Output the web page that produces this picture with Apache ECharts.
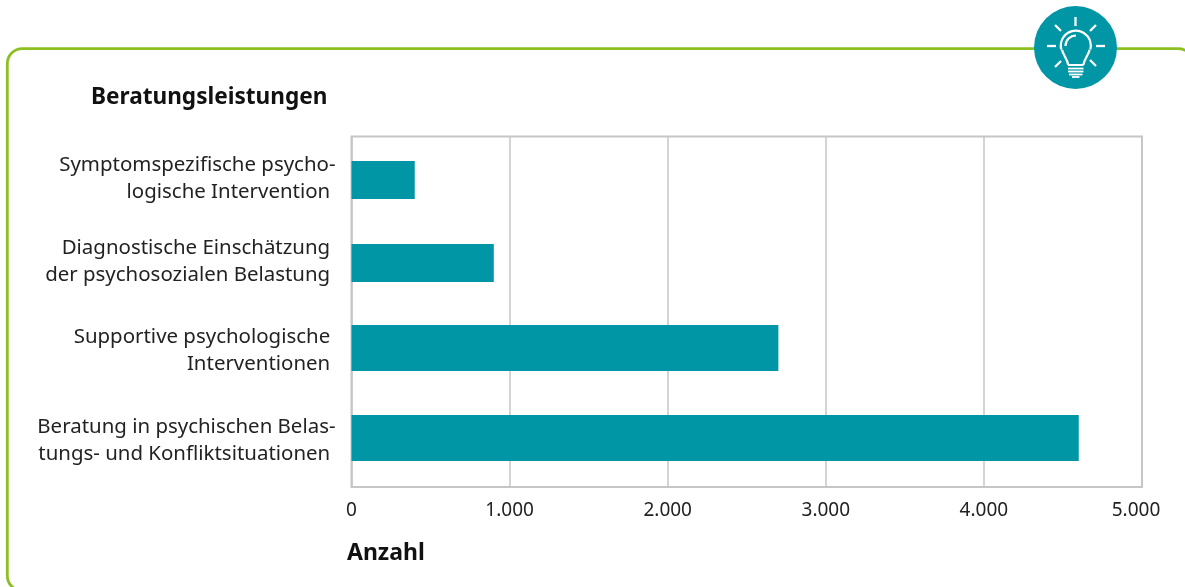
<!DOCTYPE html>
<html><head><meta charset="utf-8">
<style>html,body{margin:0;padding:0;background:#fff}#c{width:1185px;height:587px}</style>
<script src="https://cdn.jsdelivr.net/npm/echarts@6/dist/echarts.min.js"></script>
</head><body><div id="c"></div>
<script>
const categories = [
  "Symptomspezifische psycho-\nlogische Intervention\u00a0",
  "Diagnostische Einschätzung\u00a0\nder psychosozialen Belastung\u00a0",
  "Supportive psychologische\u00a0\nInterventionen\u00a0",
  "Beratung in psychischen Belas-\ntungs- und Konfliktsituationen\u00a0"
];
const values = [400, 900, 2700, 4600];
const narrowRows = [true, true, false, false];
const tickMax = 5000, tickStep = 1000;
const TEAL = '#0096a5', GREEN = '#8cc022', GRID = '#c6c6c6', FONT = '"Noto Sans"';
const fmt = v => v === 0 ? '0' : v === tickMax ? '{last|' + (v / 1000).toFixed(0) + '.000}' : (v / 1000).toFixed(0) + '.000';
const pick = (arr, narrow) => arr.filter((_, i) => narrowRows[i] === narrow);
const chart = echarts.init(document.getElementById('c'), null, {renderer: 'canvas'});
const ray = (x1, y1, x2, y2) => ({type: 'line', z: 12, shape: {x1, y1, x2, y2}, style: {stroke: '#fff', lineWidth: 2.3}});
const base = (x1, x2, y, w) => ({type: 'line', z: 12, shape: {x1, y1: y, x2, y2: y}, style: {stroke: '#fff', lineWidth: w || 1.8}});
const white = {fill: 'none', stroke: '#fff', lineWidth: 2.2};
const barAxis = (gridIndex, narrow) => ({type: 'category', gridIndex, data: pick(categories, narrow), inverse: true, show: false});
const labelAxis = (gridIndex, narrow) => ({
  type: 'category', gridIndex, data: pick(categories, narrow), inverse: true,
  axisLine: {show: false}, axisTick: {show: false},
  axisLabel: {interval: 0, margin: 16, color: '#222', fontFamily: FONT, fontSize: 20.45, lineHeight: 27, align: 'right'}
});
const hiddenX = gridIndex => ({type: 'value', gridIndex, min: 0, max: tickMax, show: false});
chart.setOption({
  animation: false,
  backgroundColor: '#fff',
  title: [
    {text: 'Beratungsleistungen', left: 91, top: 86, textStyle: {fontFamily: FONT, fontSize: 22.6, fontWeight: 'bold', color: '#111'}, padding: 0},
    {text: 'Anzahl', left: 347, top: 542, textStyle: {fontFamily: FONT, fontSize: 23, fontWeight: 'bold', color: '#111'}, padding: 0}
  ],
  grid: [
    {left: 351.5, top: 136.5, width: 790.5, height: 350.5, show: true, borderColor: GRID, borderWidth: 2},
    {left: 351.5, top: 138.5, width: 790.5, height: 166},
    {left: 351.5, top: 303, width: 790.5, height: 180},
    {left: 351.5, top: 137.5, width: 790.5, height: 166},
    {left: 351.5, top: 306, width: 790.5, height: 180}
  ],
  xAxis: [
    {type: 'value', gridIndex: 0, min: 0, max: tickMax, interval: tickStep,
     axisLine: {show: false}, axisTick: {show: false},
     splitLine: {show: true, lineStyle: {color: GRID, width: 1.5}},
     axisLabel: {formatter: fmt, margin: 14, color: '#222', fontFamily: FONT, fontSize: 19,
       rich: {last: {color: '#222', fontFamily: FONT, fontSize: 19, padding: [0, 12, 0, 0]}}}},
    hiddenX(1), hiddenX(2), hiddenX(3), hiddenX(4)
  ],
  yAxis: [
    {type: 'category', gridIndex: 0, data: categories, show: false},
    barAxis(1, true), barAxis(2, false),
    labelAxis(3, true), labelAxis(4, false)
  ],
  series: [
    {type: 'bar', xAxisIndex: 1, yAxisIndex: 1, barWidth: 38, itemStyle: {color: TEAL}, z: 5, data: pick(values, true)},
    {type: 'bar', xAxisIndex: 2, yAxisIndex: 2, barWidth: 46, itemStyle: {color: TEAL}, z: 5, data: pick(values, false)}
  ],
  graphic: [
    {type: 'rect', z: 1, silent: true, shape: {x: 7.3, y: 48.7, width: 1186, height: 542, r: 15}, style: {fill: 'none', stroke: GREEN, lineWidth: 2.8}},
    {type: 'circle', z: 10, shape: {cx: 1075.5, cy: 47.5, r: 41.5}, style: {fill: TEAL}},
    ray(1075.5, 17, 1075.5, 26), ray(1047, 46, 1056, 46), ray(1096, 46, 1105, 46),
    ray(1055, 25, 1061, 31), ray(1096, 25, 1090, 31), ray(1055, 67, 1061, 61), ray(1096, 66, 1090, 60),
    {type: 'arc', z: 12, shape: {cx: 1075.8, cy: 45.7, r: 15, startAngle: Math.PI * 0.92, endAngle: Math.PI * 2.08, clockwise: true}, style: white},
    {type: 'bezierCurve', z: 12, shape: {x1: 1062, y1: 49.7, cpx1: 1063, cpy1: 55, x2: 1068.3, y2: 65, cpx2: 1067, cpy2: 58}, style: white},
    {type: 'bezierCurve', z: 12, shape: {x1: 1089.6, y1: 49.7, cpx1: 1088.6, cpy1: 55, x2: 1083.3, y2: 65, cpx2: 1084.6, cpy2: 58}, style: white},
    {type: 'arc', z: 12, shape: {cx: 1076, cy: 46, r: 10.5, startAngle: Math.PI, endAngle: Math.PI * 1.5, clockwise: true}, style: white},
    base(1068, 1083.5, 65, 2), base(1068, 1083.5, 68.5), base(1068, 1083.5, 71.5), base(1069, 1082.5, 74.5), base(1072, 1079.5, 77)
  ]
});
</script></body></html>
